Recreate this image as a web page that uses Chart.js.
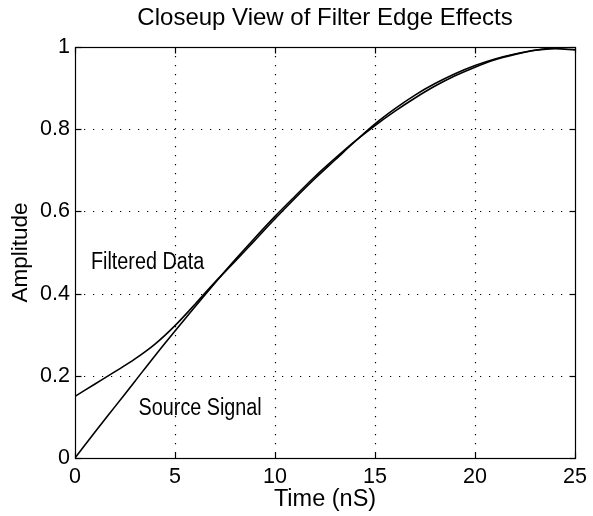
<!DOCTYPE html>
<html><head><meta charset="utf-8">
<script src="https://cdn.jsdelivr.net/npm/chart.js@4/dist/chart.umd.min.js"></script>
<style>html,body{margin:0;padding:0;background:#fff;}</style>
</head><body>
<canvas id="c" width="593" height="516"></canvas>
<script>
const chartTitle = 'Closeup View of Filter Edge Effects';
const xTitle = 'Time (nS)';
const yTitle = 'Amplitude';
const timeNs = [0,1,2,3,4,5,6,7,8,9,10,11,12,13,14,15,16,17,18,19,20,21,22,23,24,25];
const sourceSignal = [0,0.063,0.125,0.187,0.249,0.309,0.368,0.426,0.482,0.536,0.588,0.637,0.685,0.729,0.771,0.809,0.844,0.876,0.905,0.930,0.951,0.969,0.982,0.992,0.998,1.0];
const filteredData = [0.150,0.180,0.210,0.241,0.277,0.322,0.374,0.428,0.478,0.530,0.582,0.632,0.680,0.725,0.770,0.813,0.850,0.883,0.911,0.935,0.955,0.971,0.983,0.992,0.996,0.993];
const xTickValues = [0,5,10,15,20,25];
const yTickValues = [0,0.2,0.4,0.6,0.8,1];
const annotationTexts = ['Filtered Data','Source Signal'];

const FONT = '"Liberation Sans", Arial, Helvetica, sans-serif';

const boxPlugin = {
  id: 'matlabBox',
  beforeDatasetsDraw(chart) {
    const {ctx, chartArea: a, scales: {x, y}} = chart;
    ctx.save();
    ctx.strokeStyle = '#000';
    ctx.lineWidth = 1.2;
    ctx.setLineDash([1.2, 7.8]);
    xTickValues.forEach(v => {
      const px = Math.round(x.getPixelForValue(v)) + 0.5;
      if (v === x.min || v === x.max) return;
      ctx.beginPath(); ctx.moveTo(px, a.top); ctx.lineTo(px, a.bottom); ctx.stroke();
    });
    yTickValues.forEach(v => {
      const py = Math.round(y.getPixelForValue(v)) + 0.5;
      if (v === y.min || v === y.max) return;
      ctx.beginPath(); ctx.moveTo(a.left, py); ctx.lineTo(a.right, py); ctx.stroke();
    });
    ctx.restore();
  },
  afterDatasetsDraw(chart) {
    const {ctx, chartArea: a, scales: {x, y}} = chart;
    ctx.save();
    ctx.strokeStyle = '#000';
    ctx.lineWidth = 1.2;
    ctx.setLineDash([]);
    const L = Math.round(a.left) + 0.5, R = Math.round(a.right) + 0.5;
    const T = Math.round(a.top) + 0.5, B = Math.round(a.bottom) + 0.5;
    ctx.strokeRect(L, T, R - L, B - T);
    const tl = 6;
    xTickValues.forEach(v => {
      const px = Math.round(x.getPixelForValue(v)) + 0.5;
      ctx.beginPath(); ctx.moveTo(px, B); ctx.lineTo(px, B - tl); ctx.stroke();
      ctx.beginPath(); ctx.moveTo(px, T); ctx.lineTo(px, T + tl); ctx.stroke();
    });
    yTickValues.forEach(v => {
      const py = Math.round(y.getPixelForValue(v)) + 0.5;
      ctx.beginPath(); ctx.moveTo(L, py); ctx.lineTo(L + tl, py); ctx.stroke();
      ctx.beginPath(); ctx.moveTo(R, py); ctx.lineTo(R - tl, py); ctx.stroke();
    });
    // title centred over the plot box
    ctx.fillStyle = '#000';
    ctx.font = '24px ' + FONT;
    ctx.textAlign = 'center';
    ctx.textBaseline = 'middle';
    ctx.fillText(chartTitle, (a.left + a.right) / 2, 18);
    // text annotations anchored in data coordinates
    const anchors = [[0.8, 0.459], [3.18, 0.105]];
    ctx.font = '23px ' + FONT;
    ctx.textBaseline = 'alphabetic';
    ctx.textAlign = 'left';
    annotationTexts.forEach((t, i) => {
      const px = x.getPixelForValue(anchors[i][0]);
      const py = y.getPixelForValue(anchors[i][1]);
      ctx.save();
      ctx.translate(px, py);
      ctx.scale(0.86, 1);
      ctx.fillText(t, 0, 0);
      ctx.restore();
    });
    ctx.restore();
  }
};

const mk = arr => timeNs.map((t, i) => ({x: t, y: arr[i]}));

new Chart(document.getElementById('c').getContext('2d'), {
  type: 'line',
  data: {
    datasets: [
      {label: 'Filtered Data', data: mk(filteredData), borderColor: '#000', borderWidth: 1.6, pointRadius: 0, cubicInterpolationMode: 'monotone', fill: false},
      {label: 'Source Signal', data: mk(sourceSignal), borderColor: '#000', borderWidth: 1.6, pointRadius: 0, cubicInterpolationMode: 'monotone', fill: false}
    ]
  },
  options: {
    responsive: false,
    animation: false,
    devicePixelRatio: 1,
    layout: {padding: {left: 0, right: 15, top: 47, bottom: 0}},
    plugins: {
      legend: {display: false},
      tooltip: {enabled: false},
      title: {display: false}
    },
    scales: {
      x: {
        type: 'linear', min: 0, max: 25,
        afterBuildTicks: s => { s.ticks = xTickValues.map(v => ({value: v})); },
        ticks: {color: '#000', font: {family: FONT, size: 21.5}, padding: 6, maxRotation: 0, autoSkip: false},
        grid: {display: false, drawTicks: false},
        border: {display: false},
        title: {display: true, text: xTitle, color: '#000', font: {family: FONT, size: 23.5, lineHeight: 1.2}, padding: {top: 0, bottom: 2}},
        afterFit: s => { s.height = 58; }
      },
      y: {
        type: 'linear', min: 0, max: 1,
        afterBuildTicks: s => { s.ticks = yTickValues.map(v => ({value: v})); },
        ticks: {color: '#000', font: {family: FONT, size: 21.5}, padding: 5, callback: v => String(v)},
        grid: {display: false, drawTicks: false},
        border: {display: false},
        title: {display: true, text: yTitle, color: '#000', font: {family: FONT, size: 22.5, lineHeight: 1.2}, padding: {top: 7, bottom: 0}},
        afterFit: s => { s.width = 75; }
      }
    }
  },
  plugins: [boxPlugin]
});
</script>
</body></html>
